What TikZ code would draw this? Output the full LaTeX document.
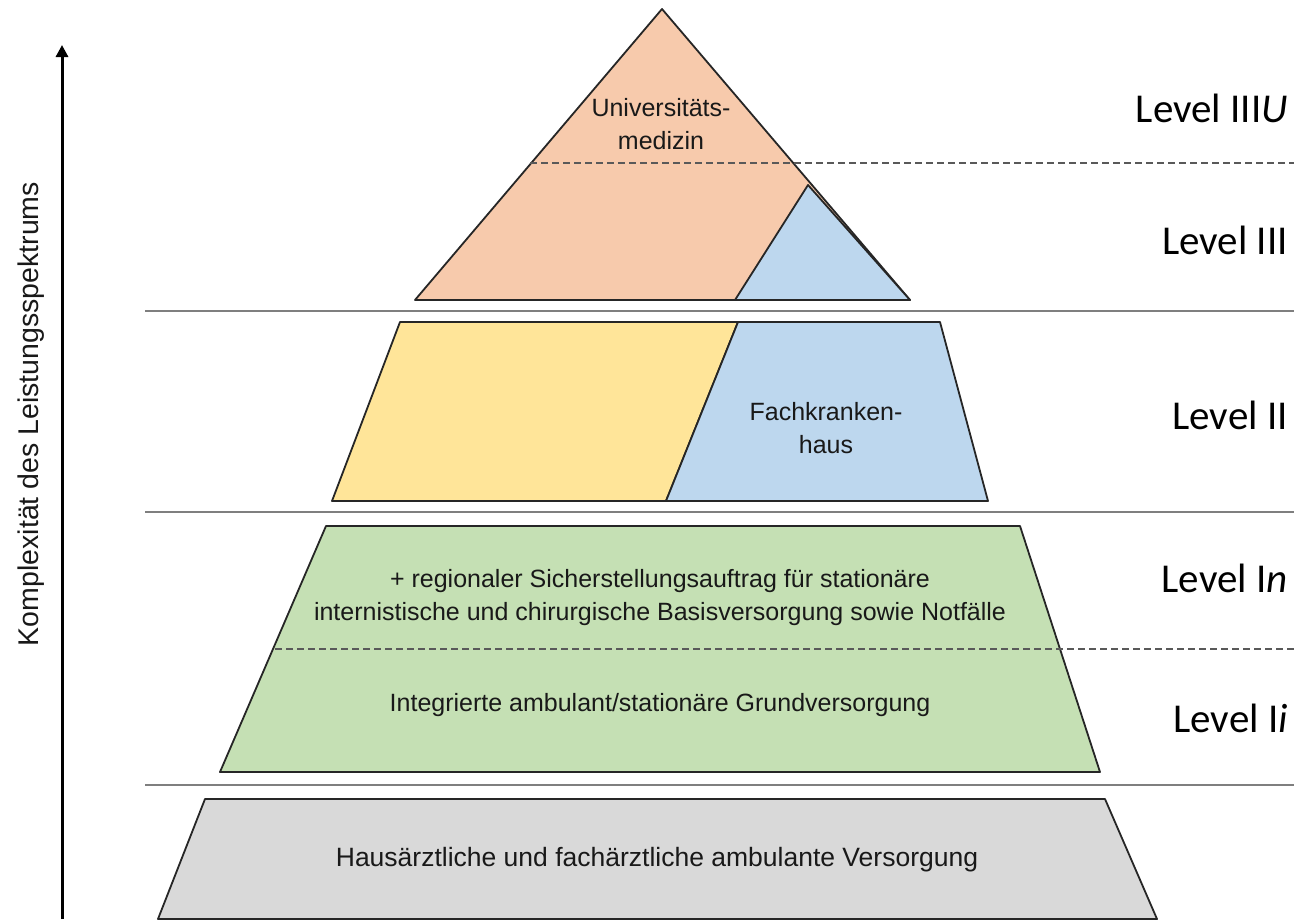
\documentclass[tikz,border=0pt]{standalone}
\usepackage{fontspec}
\setmainfont{Liberation Sans}
\newfontfamily\lvlfont{Carlito}
\usetikzlibrary{arrows.meta}
\definecolor{peach}{HTML}{F7CAAC}
\definecolor{lblue}{HTML}{BDD7EE}
\definecolor{lyellow}{HTML}{FFE599}
\definecolor{lgreen}{HTML}{C5E0B4}
\definecolor{lgray}{HTML}{D9D9D9}
\definecolor{sepgray}{HTML}{7F7F7F}
\tikzset{
  shapeline/.style={draw=black!85, line width=1.8pt, line join=round},
  sepline/.style={draw=sepgray, line width=2pt},
  dashline/.style={draw=black!65, line width=1.6pt, dash pattern=on 7pt off 4pt},
  bodytext/.style={font=\fontsize{25}{33}\selectfont, align=center, text=black!90, inner sep=0pt},
  lvltext/.style={font=\lvlfont\fontsize{41}{48}\selectfont, anchor=east, inner sep=0pt}
}
\begin{document}
\begin{tikzpicture}[x=1pt,y=-1pt]
\useasboundingbox (0,0) rectangle (1294,919);
% top pyramid
\filldraw[shapeline, fill=peach] (662,9) -- (910,300) -- (415,300) -- cycle;
\filldraw[shapeline, fill=lblue] (808,185) -- (910,300) -- (735,300) -- cycle;
\draw[dashline] (530,163) -- (1294,163);
\node[bodytext] (uni) at (661,124) {Universitäts-\\medizin};
% separator
\draw[sepline] (145,311) -- (1294,311);
% level II
\filldraw[shapeline, fill=lyellow] (400,322) -- (738,322) -- (666,501) -- (332,501) -- cycle;
\filldraw[shapeline, fill=lblue] (738,322) -- (940,322) -- (988,501) -- (666,501) -- cycle;
\node[bodytext] (fach) at (826,428) {Fachkranken-\\haus};
\draw[sepline] (145,512) -- (1294,512);
% level I
\filldraw[shapeline, fill=lgreen] (326,526) -- (1020,526) -- (1100,772) -- (220,772) -- cycle;
\draw[dashline] (275,649) -- (1294,649);
\node[bodytext] (basis) at (660,598) {+ regionaler Sicherstellungsauftrag für stationäre\\internistische und chirurgische Basisversorgung sowie Notfälle};
\node[bodytext] (grund) at (660,705) {Integrierte ambulant/stationäre Grundversorgung};
\draw[sepline] (145,785) -- (1294,785);
% base
\filldraw[shapeline, fill=lgray] (205,799) -- (1105,799) -- (1157,919) -- (158,919) -- cycle;
\node[bodytext, font=\fontsize{26.5}{33}\selectfont] (haus) at (657,860) {Hausärztliche und fachärztliche ambulante Versorgung};
% levels
\node[lvltext] (l3u) at (1288,108) {Level III\textit{U}};
\node[lvltext] (l3) at (1288,240) {Level III};
\node[lvltext] (l2) at (1288,415) {Level II};
\node[lvltext] (l1n) at (1288,578) {Level I\textit{n}};
\node[lvltext] (l1i) at (1288,718) {Level I\textit{i}};
% axis
\coordinate (axbot) at (62,919);
\coordinate (axtop) at (62,45);
\draw[line width=3pt, -{Triangle[length=12pt,width=12pt]}] (axbot) -- (axtop);
\node[bodytext, rotate=90, font=\fontsize{28.5}{33}\selectfont] (axlabel) at (31,414) {Komplexität des Leistungsspektrums};
\end{tikzpicture}
\end{document}
